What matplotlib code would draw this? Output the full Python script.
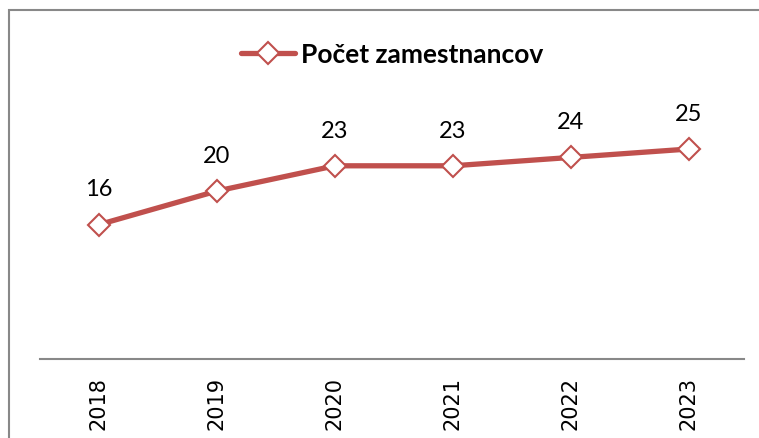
import matplotlib.pyplot as plt
from matplotlib.patches import Rectangle

years = ['2018', '2019', '2020', '2021', '2022', '2023']
employees = [16, 20, 23, 23, 24, 25]
series_name = 'Počet zamestnancov'

plt.rcParams['font.family'] = ['Lato', 'DejaVu Sans']

fig = plt.figure(figsize=(7.59, 4.39), dpi=100)
# plot area in pixel terms: x 40..748, y 108..360 (from top)
ax = fig.add_axes([40 / 759, (439 - 360) / 439, 708 / 759, 252 / 439])

x = range(len(years))
ax.plot(x, employees, color='#C0504D', linewidth=3.8, marker='D',
        markersize=11, markerfacecolor='white', markeredgecolor='#C0504D',
        markeredgewidth=1.5, label=series_name, solid_capstyle='round')

for i, v in zip(x, employees):
    ax.annotate(str(v), (i, v), xytext=(0, 21), textcoords='offset points',
                ha='center', va='baseline', fontsize=17, color='black')

ax.set_xlim(-0.5, len(years) - 0.5)
ax.set_ylim(0, 30)
ax.set_xticks(list(x))
ax.set_xticklabels(years, rotation=90, fontsize=15, family='DejaVu Sans')
ax.tick_params(axis='x', length=0, pad=12)
ax.set_yticks([])
for s in ['top', 'right', 'left']:
    ax.spines[s].set_visible(False)
ax.spines['bottom'].set_color('#888888')
ax.spines['bottom'].set_linewidth(1.5)
ax.spines['bottom'].set_bounds(-0.5, 5.47)

leg = fig.legend(loc='center', bbox_to_anchor=(392 / 759, 1 - 55 / 439),
                 frameon=False, prop={'weight': 'bold', 'size': 19},
                 handlelength=2.05, handletextpad=0.2)

# chart border (cut off on the right and bottom)
fig.patches.append(Rectangle((9 / 759, -0.1), 1.2, 1 - 11 / 439 + 0.1,
                             transform=fig.transFigure, fill=False,
                             edgecolor='#888888', linewidth=1.5))

fig.savefig('out.png', dpi=100)
